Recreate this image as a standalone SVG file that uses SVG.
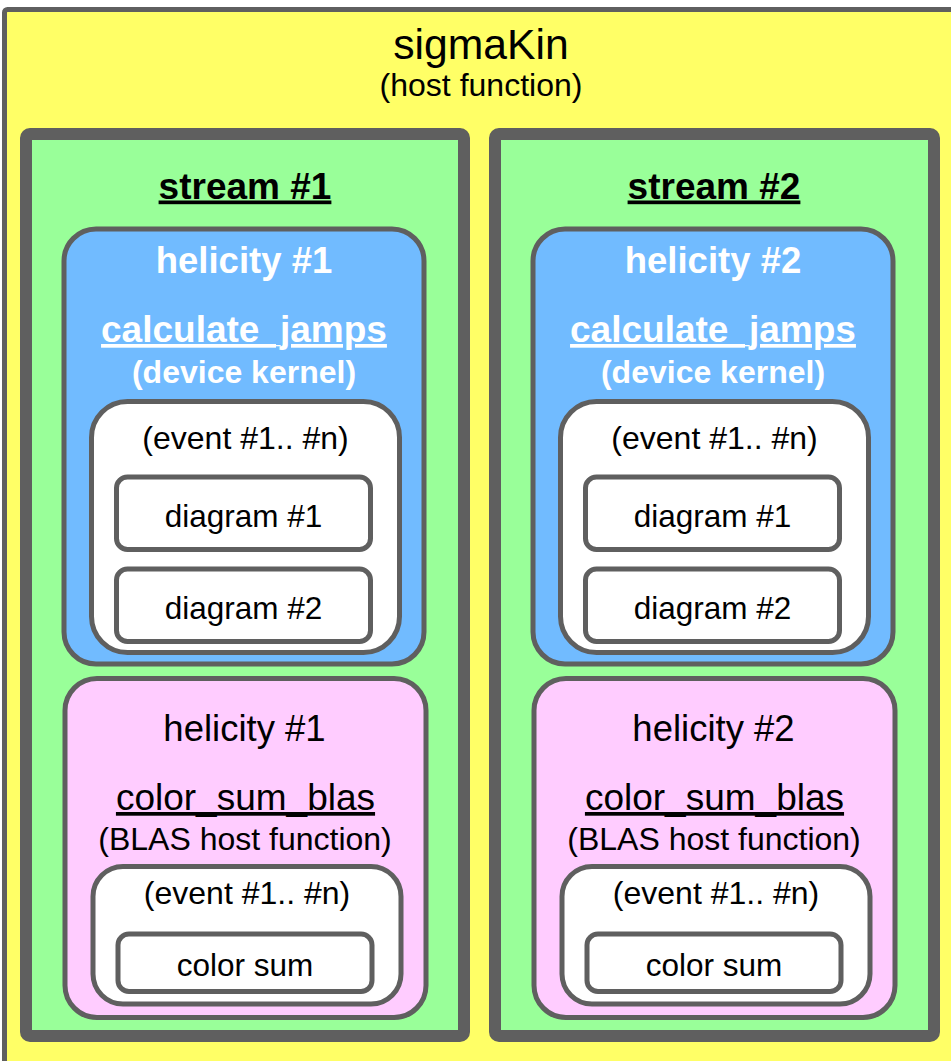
<svg xmlns="http://www.w3.org/2000/svg" width="951" height="1061" viewBox="0 0 951 1061">
<style>
.t{font-family:"Liberation Sans",Arial,sans-serif;text-anchor:middle;fill:#000}
.b{font-weight:bold}
.w{fill:#fff}
.u{text-decoration:underline}
.host{fill:#FFFF66;stroke:#5F5F5F;stroke-width:5}
.stream{fill:#99FF99;stroke:#5F5F5F;stroke-width:12}
.kernel{fill:#71BBFF;stroke:#5F5F5F;stroke-width:5}
.blas{fill:#FFCCFF;stroke:#5F5F5F;stroke-width:5}
.ev{fill:#fff;stroke:#5F5F5F;stroke-width:5}
.box{fill:#fff;stroke:#5F5F5F;stroke-width:5}
</style>
<g id="sigmaKin">
<rect class="host" x="4.5" y="9.5" width="953" height="1062" rx="3"/>
<text class="t" x="481" y="58.5" font-size="42.7">sigmaKin</text>
<text class="t" x="481" y="95.5" font-size="32">(host function)</text>
</g>
<g id="stream1">
<rect class="stream" x="26" y="134" width="438" height="902" rx="4"/>
<text class="t b u" x="245" y="198.5" font-size="37">stream #1</text>
</g>
<g id="kernel1">
<rect class="kernel" x="64" y="229" width="360" height="435" rx="32"/>
<text class="t b w" x="244" y="273" font-size="36.5">helicity #1</text>
<text class="t b w u" x="244" y="342" font-size="37">calculate_jamps</text>
<text class="t b w" x="244" y="383" font-size="32">(device kernel)</text>
</g>
<g id="events1a">
<rect class="ev" x="91.5" y="401.5" width="308" height="251" rx="36"/>
<text class="t" x="245.5" y="448.5" font-size="32">(event #1.. #n)</text>
</g>
<g id="diag1a">
<rect class="box" x="116.5" y="477" width="254" height="72.5" rx="11"/>
<text class="t" x="243.5" y="527" font-size="31.5">diagram #1</text>
</g>
<g id="diag2a">
<rect class="box" x="116.5" y="569" width="254" height="72.5" rx="11"/>
<text class="t" x="243.5" y="619" font-size="31.5">diagram #2</text>
</g>
<g id="blas1">
<rect class="blas" x="65" y="678.5" width="361" height="339" rx="32"/>
<text class="t" x="244.5" y="741" font-size="36.5">helicity #1</text>
<text class="t u" x="245.5" y="810" font-size="37">color_sum_blas</text>
<text class="t" x="245" y="850" font-size="32">(BLAS host function)</text>
</g>
<g id="events1b">
<rect class="ev" x="93" y="866.5" width="308" height="137.5" rx="30"/>
<text class="t" x="247" y="903.5" font-size="32">(event #1.. #n)</text>
</g>
<g id="csum1">
<rect class="box" x="118" y="934" width="254" height="57.5" rx="11"/>
<text class="t" x="245" y="976" font-size="31.5">color sum</text>
</g>
<g id="stream2">
<rect class="stream" x="495" y="134" width="439" height="902" rx="4"/>
<text class="t b u" x="714" y="198.5" font-size="37">stream #2</text>
</g>
<g id="kernel2">
<rect class="kernel" x="533" y="229" width="360" height="435" rx="32"/>
<text class="t b w" x="713" y="273" font-size="36.5">helicity #2</text>
<text class="t b w u" x="713" y="342" font-size="37">calculate_jamps</text>
<text class="t b w" x="713" y="383" font-size="32">(device kernel)</text>
</g>
<g id="events2a">
<rect class="ev" x="560.5" y="401.5" width="308" height="251" rx="36"/>
<text class="t" x="714.5" y="448.5" font-size="32">(event #1.. #n)</text>
</g>
<g id="diag1b">
<rect class="box" x="585.5" y="477" width="254" height="72.5" rx="11"/>
<text class="t" x="712.5" y="527" font-size="31.5">diagram #1</text>
</g>
<g id="diag2b">
<rect class="box" x="585.5" y="569" width="254" height="72.5" rx="11"/>
<text class="t" x="712.5" y="619" font-size="31.5">diagram #2</text>
</g>
<g id="blas2">
<rect class="blas" x="534" y="678.5" width="361" height="339" rx="32"/>
<text class="t" x="713.5" y="741" font-size="36.5">helicity #2</text>
<text class="t u" x="714.5" y="810" font-size="37">color_sum_blas</text>
<text class="t" x="714" y="850" font-size="32">(BLAS host function)</text>
</g>
<g id="events2b">
<rect class="ev" x="562" y="866.5" width="308" height="137.5" rx="30"/>
<text class="t" x="716" y="903.5" font-size="32">(event #1.. #n)</text>
</g>
<g id="csum2">
<rect class="box" x="587" y="934" width="254" height="57.5" rx="11"/>
<text class="t" x="714" y="976" font-size="31.5">color sum</text>
</g>
<g id="connectors"></g>
</svg>
